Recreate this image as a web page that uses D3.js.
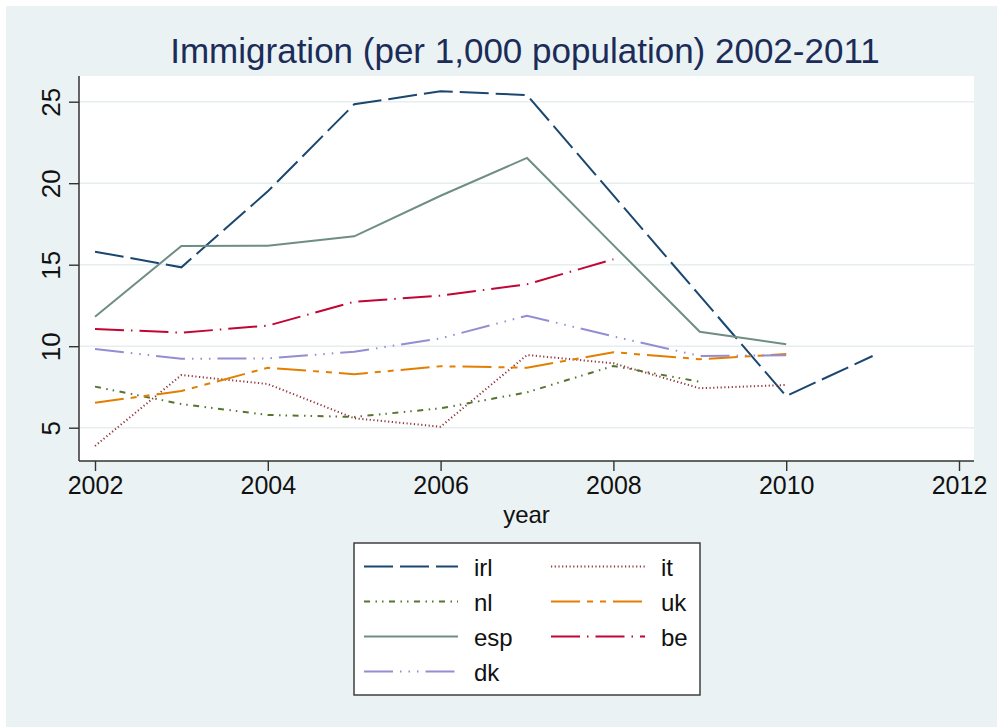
<!DOCTYPE html>
<html lang="en">
<head>
    <meta charset="UTF-8">
    <title>Immigration (per 1,000 population) 2002-2011</title>
    <script src="https://cdnjs.cloudflare.com/ajax/libs/d3/7.9.0/d3.min.js"></script>
    <style>
        html, body { margin: 0; padding: 0; background: white; }
        svg { display: block; font-family: "Liberation Sans", Arial, Helvetica, sans-serif; }
    </style>
</head>
<body>
    <svg id="chart" width="997" height="727"></svg>

    <script>
        // data
        const years = [2002, 2003, 2004, 2005, 2006, 2007, 2008, 2009, 2010, 2011];
        const irl = [15.80, 14.84, 19.50, 24.84, 25.64, 25.41, 19.25, 13.10, 6.94, 9.40];
        const it  = [3.88, 8.23, 7.68, 5.58, 5.06, 9.46, 8.95, 7.42, 7.62, null];
        const nl  = [7.52, 6.45, 5.78, 5.66, 6.19, 7.17, 8.79, 7.82, null, null];
        const uk  = [6.53, 7.25, 8.68, 8.28, 8.77, 8.68, 9.63, 9.20, 9.52, null];
        const esp = [11.81, 16.15, 16.17, 16.74, 19.23, 21.55, 16.20, 10.89, 10.12, null];
        const be  = [11.06, 10.83, 11.26, 12.73, 13.10, 13.80, 15.33, null, null, null];
        const dk  = [9.83, 9.23, 9.25, 9.66, 10.48, 11.87, 10.60, 9.40, 9.45, null];

        const seriesNames = ["irl", "it", "nl", "uk", "esp", "be", "dk"];
        const xTicks = [2002, 2004, 2006, 2008, 2010, 2012];
        const yTicks = [5, 10, 15, 20, 25];

        // stata s2color look
        const styles = {
            irl: { color: "#1A476F", dash: "29 7" },
            it:  { color: "#90353B", dash: "1.2 2.5" },
            nl:  { color: "#55752F", dash: "6 5.5 1.5 5 1.5 5.5" },
            uk:  { color: "#E37E00", dash: "29 7 6 7 6 7" },
            esp: { color: "#6E8E84", dash: null },
            be:  { color: "#C10534", dash: "29 7 1.5 7" },
            dk:  { color: "#938DD2", dash: "29 7 1.5 7 1.5 7 1.5 7" }
        };
        const values = { irl, it, nl, uk, esp, be, dk };

        const svg = d3.select("#chart");
        const plot = { left: 79, right: 974, top: 76, bottom: 461 };

        // outer background
        svg.append("rect")
            .attr("x", 6).attr("y", 6)
            .attr("width", 991).attr("height", 721)
            .attr("fill", "#EAF2F3");

        svg.append("rect")
            .attr("x", plot.left).attr("y", plot.top)
            .attr("width", plot.right - plot.left)
            .attr("height", plot.bottom - plot.top)
            .attr("fill", "white");

        const x = d3.scaleLinear().domain([2002, 2012]).range([95, 959]);
        const y = d3.scaleLinear().domain([5, 25]).range([427.7, 101.7]);

        // gridlines
        svg.append("g").selectAll("line")
            .data(yTicks)
            .join("line")
            .attr("x1", plot.left).attr("x2", plot.right)
            .attr("y1", d => y(d)).attr("y2", d => y(d))
            .attr("stroke", "#E6EEF0")
            .attr("stroke-width", 1.6);

        // series
        const line = d3.line()
            .defined(d => d.v != null)
            .x(d => x(d.year))
            .y(d => y(d.v));

        seriesNames.forEach(name => {
            const pts = years.map((yr, i) => ({ year: yr, v: values[name][i] }));
            svg.append("path")
                .datum(pts)
                .attr("fill", "none")
                .attr("stroke", styles[name].color)
                .attr("stroke-width", 2)
                .attr("stroke-dasharray", styles[name].dash)
                .attr("d", line);
        });

        // axes
        const xAxis = svg.append("g")
            .attr("transform", `translate(0,${plot.bottom})`)
            .call(d3.axisBottom(x).tickValues(xTicks).tickFormat(d3.format("d"))
                .tickSize(10).tickPadding(5).tickSizeOuter(0));
        xAxis.select(".domain").remove();
        xAxis.selectAll("line").attr("stroke", "#333").attr("stroke-width", 1.4);
        xAxis.selectAll("text")
            .attr("font-size", 25)
            .attr("font-family", "Liberation Sans, Arial, sans-serif")
            .attr("fill", "#111");

        const yAxis = svg.append("g")
            .attr("transform", `translate(${plot.left},0)`)
            .call(d3.axisLeft(y).tickValues(yTicks).tickSize(10).tickSizeOuter(0));
        yAxis.select(".domain").remove();
        yAxis.selectAll("line").attr("stroke", "#333").attr("stroke-width", 1.4);
        yAxis.selectAll("text")
            .attr("font-size", 26)
            .attr("font-family", "Liberation Sans, Arial, sans-serif")
            .attr("fill", "#111")
            .attr("text-anchor", "middle")
            .attr("dy", 0)
            .attr("x", 0)
            .attr("transform", "translate(-19,0) rotate(-90)");

        svg.append("line")
            .attr("x1", plot.left).attr("x2", plot.right)
            .attr("y1", plot.bottom).attr("y2", plot.bottom)
            .attr("stroke", "#333").attr("stroke-width", 1.5);
        svg.append("line")
            .attr("x1", plot.left).attr("x2", plot.left)
            .attr("y1", plot.top).attr("y2", plot.bottom)
            .attr("stroke", "#333").attr("stroke-width", 1.5);

        // titles
        svg.append("text")
            .attr("x", 525).attr("y", 63)
            .attr("text-anchor", "middle")
            .attr("font-size", 35)
            .attr("fill", "#1C2C59")
            .text("Immigration (per 1,000 population) 2002-2011");

        svg.append("text")
            .attr("x", (plot.left + plot.right) / 2).attr("y", 523)
            .attr("text-anchor", "middle")
            .attr("font-size", 24)
            .attr("fill", "#111")
            .text("year");

        // legend
        const legend = svg.append("g");
        legend.append("rect")
            .attr("x", 354).attr("y", 543)
            .attr("width", 346).attr("height", 152)
            .attr("fill", "white")
            .attr("stroke", "#333")
            .attr("stroke-width", 1.4);

        seriesNames.forEach((name, i) => {
            const col = i % 2, row = Math.floor(i / 2);
            const lx = col === 0 ? 364 : 551;
            const ly = 566.5 + row * 35;
            legend.append("line")
                .attr("x1", lx).attr("x2", lx + 94)
                .attr("y1", ly).attr("y2", ly)
                .attr("stroke", styles[name].color)
                .attr("stroke-width", 2)
                .attr("stroke-dasharray", styles[name].dash);
            legend.append("text")
                .attr("x", lx + 110).attr("y", ly + 9)
                .attr("font-size", 24)
                .attr("fill", "#111")
                .text(name);
        });
    </script>
</body>
</html>
